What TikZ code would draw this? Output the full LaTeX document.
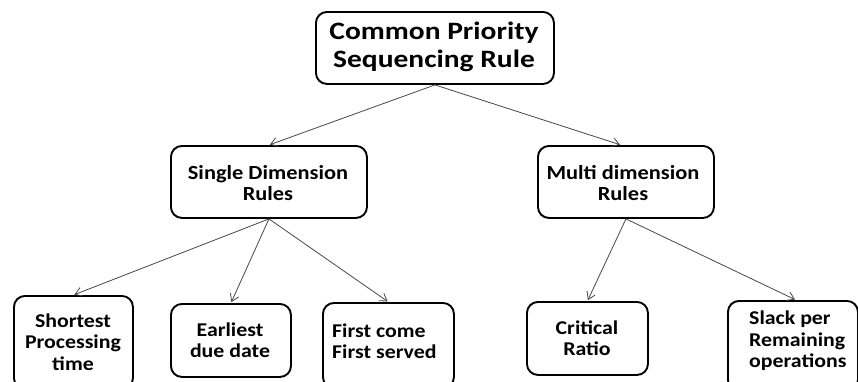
\documentclass[tikz,border=0pt]{standalone}
\usepackage{fontspec}
\setmainfont{Carlito}[FakeStretch=1.12]
\newfontfamily\headfont{Carlito}[FakeStretch=1.18]
\usetikzlibrary{arrows.meta}

\tikzset{
  rulebox/.style={draw=black, line width=1.9pt, rounded corners=11pt,
    inner sep=0pt, anchor=north west},
  toptext/.style={font=\headfont\bfseries\fontsize{25}{28}\selectfont, align=center, inner sep=0pt},
  midtext/.style={font=\bfseries\fontsize{20}{21.5}\selectfont, align=center, inner sep=0pt},
  ruletext/.style={font=\bfseries\fontsize{19.5}{21.5}\selectfont, align=center, inner sep=0pt},
  link/.style={draw=black!72, line width=0.8pt,
    -{Straight Barb[length=7pt,width=9pt,line width=0.8pt]}, shorten >=1pt},
}

% box from (left,top) to (right,bottom), y measured downward
\newcommand{\rulerect}[5]{%
  \node[rulebox, minimum width={(#4-#2)*1pt}, minimum height={(#5-#3)*1pt}]
    (#1) at (#2,#3) {};}

\begin{document}
\begin{tikzpicture}[x=1pt, y=-1pt]
  \useasboundingbox (0,0) rectangle (858,381);
  \clip (0,0) rectangle (858,381);

  % boxes
  \rulerect{root}{315}{11}{553}{83}
  \rulerect{single}{170}{145}{366}{217}
  \rulerect{multi}{537}{145}{713}{217}
  \rulerect{spt}{13}{295}{132}{388}
  \rulerect{edd}{170}{303}{290}{376}
  \rulerect{fcfs}{322}{302}{453}{387}
  \rulerect{cr}{526}{301}{647}{374}
  \rulerect{slack}{727}{300}{857}{390}

  % labels
  \node[toptext] (root-t) at (434,47) {Common Priority\\Sequencing Rule};
  \node[midtext] (single-t) at (268,183) {Single Dimension\\Rules};
  \node[midtext] (multi-t) at (623,183) {Multi dimension\\Rules};
  \node[ruletext] (spt-t) at (73,342) {Shortest\\Processing\\time};
  \node[ruletext] (edd-t) at (230,340) {Earliest\\due date};
  \node[ruletext, align=left, anchor=west] (fcfs-t) at (332,341) {First come\\First served};
  \node[ruletext] (cr-t) at (587,338) {Critical\\Ratio};
  \node[ruletext, align=left, anchor=west] (slack-t) at (749,341) {Slack per\\Remaining\\operations};

  % connectors
  \draw[link] (root.south) -- (single.north);
  \draw[link] (root.south) -- ([xshift=-5pt]multi.north);
  \draw[link] (single.south) -- (spt.north);
  \draw[link] (single.south) -- (edd.north);
  \draw[link] (single.south) -- (fcfs.north);
  \draw[link] (multi.south) -- (cr.north);
  \draw[link] (multi.south) -- ([xshift=3pt]slack.north);
\end{tikzpicture}
\end{document}
